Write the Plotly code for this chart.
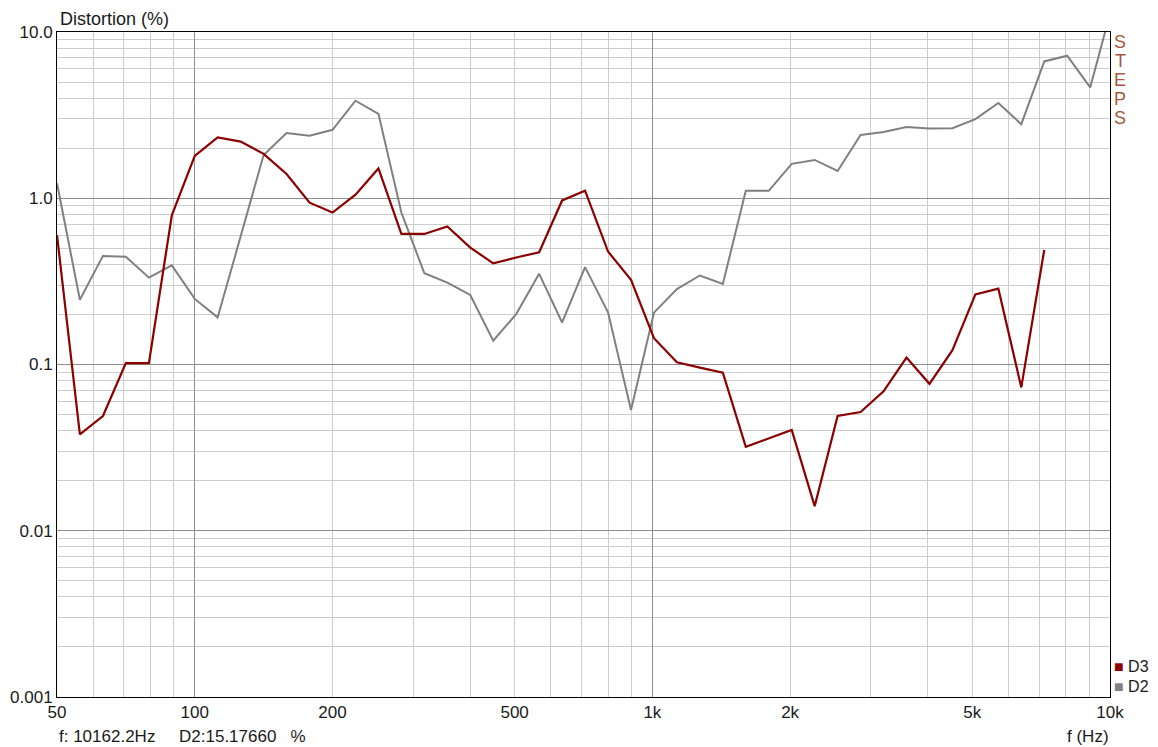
import plotly.graph_objects as go

# Sixth-octave analysis frequencies (Hz)
freq = [50.0, 56.1, 63.0, 70.7, 79.4, 89.1, 100.0, 112.2, 126.0, 141.4,
        158.7, 178.2, 200.0, 224.5, 252.0, 282.8, 317.5, 356.4, 400.0, 449.0,
        504.0, 565.7, 635.0, 712.7, 800.0, 898.0, 1008.0, 1131.4, 1270.0, 1425.5,
        1600.0, 1795.9, 2015.9, 2262.7, 2539.8, 2850.8, 3200.0, 3591.9, 4031.7, 4525.5,
        5079.7, 5701.8, 6400.0, 7183.8, 8063.4, 9050.9, 10162.2]

# Second-harmonic distortion (%)
d2 = [1.23, 0.245, 0.45, 0.445, 0.333, 0.395, 0.248, 0.192, 0.59, 1.82,
      2.47, 2.38, 2.58, 3.86, 3.22, 0.82, 0.354, 0.311, 0.262, 0.139,
      0.201, 0.351, 0.179, 0.385, 0.206, 0.0532, 0.205, 0.284, 0.343, 0.305,
      1.108, 1.108, 1.61, 1.70, 1.46, 2.40, 2.50, 2.68, 2.63, 2.64,
      2.99, 3.74, 2.79, 6.65, 7.2, 4.64, 15.1766]

# Third-harmonic distortion (%), measured up to ~7.2 kHz
d3 = [0.60, 0.038, 0.049, 0.102, 0.102, 0.79, 1.80, 2.32, 2.19, 1.85,
      1.40, 0.94, 0.82, 1.05, 1.51, 0.61, 0.61, 0.676, 0.505, 0.406,
      0.44, 0.473, 0.97, 1.11, 0.478, 0.323, 0.144, 0.103, 0.0957, 0.0893,
      0.032, 0.0359, 0.0404, 0.01406, 0.049, 0.0518, 0.069, 0.110, 0.0765, 0.122,
      0.264, 0.286, 0.0728, 0.489]

x_tick_vals = [50, 100, 200, 500, 1000, 2000, 5000, 10000]
x_tick_text = ["50", "100", "200", "500", "1k", "2k", "5k", "10k"]
x_minor_vals = [60, 70, 80, 90, 200, 300, 400, 500, 600, 700, 800, 900,
                2000, 3000, 4000, 5000, 6000, 7000, 8000, 9000]
x_major_grid = [100, 1000]

y_tick_vals = [0.001, 0.01, 0.1, 1, 10]
y_tick_text = ["0.001", "0.01", "0.1", "1.0", "10.0"]
y_minor_vals = [m * d for d in (0.001, 0.01, 0.1, 1) for m in range(2, 10)]
y_major_grid = [0.01, 0.1, 1]

side_label = "STEPS"
cursor_text = "f: 10162.2Hz&nbsp;&nbsp;&nbsp;&nbsp;&nbsp;D2:15.17660&nbsp;&nbsp;&nbsp;%"

FONT = "Liberation Sans, Arial, sans-serif"
TXT = "#1a1a1a"
LIGHT = "#cdcdcd"
DARK = "#8e8e8e"
RED = "#8b0000"
GREY = "#808080"
BROWN = "#a8583a"

fig = go.Figure()
# D2 on the main axes, D3 on the overlaid axes so it is drawn on top
fig.add_trace(go.Scatter(x=freq[:len(d2)], y=d2, mode="lines", name="D2",
                         line=dict(color=GREY, width=2), showlegend=False))
fig.add_trace(go.Scatter(x=freq[:len(d3)], y=d3, mode="lines", name="D3",
                         xaxis="x2", yaxis="y2",
                         line=dict(color=RED, width=2.2), showlegend=False))

xr = [1.69897, 4.0]
yr = [-3, 1]

fig.update_layout(
    width=1158, height=747,
    margin=dict(l=57, r=48, t=32, b=50),
    paper_bgcolor="white", plot_bgcolor="white",
    font=dict(family=FONT, size=17, color=TXT),
    xaxis=dict(
        type="log", range=xr, tickmode="array", automargin=False,
        tickvals=x_tick_vals, ticktext=x_tick_text,
        showgrid=False, zeroline=False, ticks="",
        showline=True, linecolor="#000", linewidth=1, mirror=True,
        minor=dict(tickvals=x_minor_vals, showgrid=True, gridcolor=LIGHT,
                   gridwidth=1, ticks=""),
        tickfont=dict(size=17, color=TXT),
    ),
    yaxis=dict(
        type="log", range=yr, tickmode="array", automargin=False,
        tickvals=y_tick_vals, ticktext=y_tick_text,
        showgrid=False, zeroline=False, ticks="",
        showline=True, linecolor="#000", linewidth=1, mirror=True,
        minor=dict(tickvals=y_minor_vals, showgrid=True, gridcolor=LIGHT,
                   gridwidth=1, ticks=""),
        tickfont=dict(size=17, color=TXT),
    ),
    xaxis2=dict(
        type="log", range=xr, overlaying="x", anchor="y2", side="bottom",
        tickmode="array", tickvals=x_major_grid, showticklabels=False,
        showgrid=True, gridcolor=DARK, gridwidth=1, ticks="", showline=False,
        zeroline=False, automargin=False,
    ),
    yaxis2=dict(
        type="log", range=yr, overlaying="y", anchor="x2", side="left",
        tickmode="array", tickvals=y_major_grid, showticklabels=False,
        showgrid=True, gridcolor=DARK, gridwidth=1, ticks="", showline=False,
        zeroline=False, automargin=False,
    ),
)

annos = [
    dict(text="Distortion (%)", xref="paper", yref="paper", x=0, y=1,
         xanchor="left", yanchor="bottom", xshift=1, yshift=1, showarrow=False,
         font=dict(size=18, color=TXT)),
    dict(text=f"<span style='color:{RED}'>■</span> D3", xref="paper", yref="paper",
         x=1, y=0, xanchor="left", yanchor="middle", xshift=2, yshift=31,
         showarrow=False, font=dict(size=16, color=TXT)),
    dict(text=f"<span style='color:{GREY}'>■</span> D2", xref="paper", yref="paper",
         x=1, y=0, xanchor="left", yanchor="middle", xshift=2, yshift=11,
         showarrow=False, font=dict(size=16, color=TXT)),
    dict(text=cursor_text, xref="paper", yref="paper", x=0, y=0,
         xanchor="left", yanchor="middle", xshift=0, yshift=-39, showarrow=False,
         font=dict(size=17, color=TXT)),
    dict(text="f (Hz)", xref="paper", yref="paper", x=1, y=0,
         xanchor="right", yanchor="middle", xshift=1, yshift=-39, showarrow=False,
         font=dict(size=17, color=TXT)),
]
# vertical stacked side label, one letter per row
for i, ch in enumerate(side_label):
    annos.append(dict(text=ch, xref="paper", yref="paper", x=1, y=1,
                      xanchor="center", yanchor="middle", xshift=10,
                      yshift=-10 - 19 * i, showarrow=False,
                      font=dict(size=18, color=BROWN)))
fig.update_layout(annotations=annos)

fig.write_html("out.html")
